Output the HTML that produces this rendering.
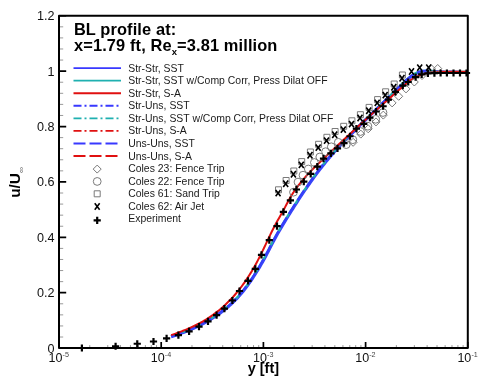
<!DOCTYPE html><html><head><meta charset="utf-8"><style>html,body{margin:0;padding:0;background:#fff;width:488px;height:379px;overflow:hidden}svg{display:block;will-change:transform}</style></head><body>
<svg width="488" height="379" viewBox="0 0 488 379">
<rect width="488" height="379" fill="#fff"/>
<path d="M59.00,337.02H63.20M59.00,325.94H63.20M59.00,314.87H63.20M59.00,303.79H63.20M59.00,281.63H63.20M59.00,270.55H63.20M59.00,259.47H63.20M59.00,248.40H63.20M59.00,226.24H63.20M59.00,215.16H63.20M59.00,204.08H63.20M59.00,193.00H63.20M59.00,170.85H63.20M59.00,159.77H63.20M59.00,148.69H63.20M59.00,137.61H63.20M59.00,115.46H63.20M59.00,104.38H63.20M59.00,93.30H63.20M59.00,82.22H63.20M59.00,60.06H63.20M59.00,48.98H63.20M59.00,37.91H63.20M59.00,26.83H63.20M89.77,348.10V345.10M107.76,348.10V345.10M120.53,348.10V345.10M130.43,348.10V345.10M138.53,348.10V345.10M145.37,348.10V345.10M151.30,348.10V345.10M156.52,348.10V345.10M191.97,348.10V345.10M209.96,348.10V345.10M222.73,348.10V345.10M232.63,348.10V345.10M240.73,348.10V345.10M247.57,348.10V345.10M253.50,348.10V345.10M258.72,348.10V345.10M294.17,348.10V345.10M312.16,348.10V345.10M324.93,348.10V345.10M334.83,348.10V345.10M342.93,348.10V345.10M349.77,348.10V345.10M355.70,348.10V345.10M360.92,348.10V345.10M396.37,348.10V345.10M414.36,348.10V345.10M427.13,348.10V345.10M437.03,348.10V345.10M445.13,348.10V345.10M451.97,348.10V345.10M457.90,348.10V345.10M463.12,348.10V345.10" stroke="#9a9a9a" stroke-width="1" fill="none"/>
<path d="M59.00,348.10H66.20M59.00,292.71H66.20M59.00,237.32H66.20M59.00,181.92H66.20M59.00,126.53H66.20M59.00,71.14H66.20M59.00,15.75H66.20M59.00,348.10V342.10M161.20,348.10V342.10M263.40,348.10V342.10M365.60,348.10V342.10M467.80,348.10V342.10" stroke="#000" stroke-width="1.7" fill="none"/>
<g fill="none" stroke-width="2" stroke-linejoin="round">
<path d="M171.38,337.48 L172.88,336.99 L174.39,336.49 L175.89,335.98 L177.40,335.46 L178.90,334.93 L180.41,334.40 L181.91,333.85 L183.42,333.29 L184.92,332.71 L186.43,332.13 L187.94,331.53 L189.44,330.91 L190.95,330.28 L192.46,329.63 L193.97,328.97 L195.47,328.29 L196.98,327.59 L198.49,326.87 L200.00,326.13 L201.51,325.37 L203.02,324.59 L204.53,323.79 L206.04,322.96 L207.55,322.11 L209.06,321.24 L210.57,320.34 L212.07,319.41 L213.58,318.46 L215.09,317.49 L216.60,316.48 L218.11,315.45 L219.62,314.38 L221.13,313.29 L222.64,312.17 L224.15,311.01 L225.66,309.83 L227.17,308.60 L228.68,307.34 L230.19,306.03 L231.71,304.68 L233.22,303.27 L234.73,301.81 L236.24,300.30 L237.76,298.72 L239.27,297.07 L240.78,295.36 L242.29,293.57 L243.80,291.72 L245.31,289.80 L246.82,287.81 L248.33,285.76 L249.84,283.64 L251.34,281.47 L252.85,279.23 L254.35,276.95 L255.86,274.60 L257.36,272.20 L258.87,269.75 L260.37,267.25 L261.88,264.68 L263.38,262.04 L264.89,259.34 L266.39,256.57 L267.90,253.72 L269.40,250.82 L270.90,247.89 L272.40,244.98 L273.90,242.11 L275.39,239.31 L276.89,236.60 L278.38,233.96 L279.88,231.38 L281.37,228.83 L282.87,226.32 L284.37,223.83 L285.87,221.36 L287.37,218.90 L288.87,216.46 L290.36,214.04 L291.86,211.64 L293.36,209.25 L294.86,206.89 L296.36,204.55 L297.86,202.23 L299.35,199.93 L300.85,197.65 L302.35,195.39 L303.85,193.16 L305.34,190.94 L306.84,188.76 L308.34,186.59 L309.84,184.45 L311.33,182.33 L312.83,180.24 L314.33,178.17 L315.82,176.13 L317.32,174.12 L318.82,172.13 L320.31,170.17 L321.81,168.24 L323.31,166.33 L324.80,164.45 L326.30,162.60 L327.79,160.78 L329.29,158.99 L330.78,157.23 L332.28,155.49 L333.78,153.77 L335.27,152.08 L336.77,150.42 L338.26,148.77 L339.76,147.14 L341.26,145.53 L342.75,143.94 L344.25,142.37 L345.75,140.80 L347.25,139.26 L348.74,137.72 L350.24,136.20 L351.74,134.68 L353.24,133.18 L354.74,131.68 L356.23,130.19 L357.73,128.70 L359.23,127.22 L360.73,125.75 L362.23,124.28 L363.73,122.81 L365.23,121.34 L366.73,119.88 L368.23,118.42 L369.73,116.97 L371.23,115.51 L372.73,114.06 L374.23,112.61 L375.73,111.16 L377.23,109.71 L378.73,108.26 L380.23,106.81 L381.73,105.35 L383.23,103.90 L384.73,102.44 L386.23,100.99 L387.73,99.53 L389.23,98.07 L390.73,96.61 L392.23,95.15 L393.73,93.70 L395.23,92.24 L396.73,90.78 L398.23,89.32 L399.73,87.86 L401.23,86.40 L402.72,84.95 L404.22,83.52 L405.71,82.13 L407.20,80.78 L408.68,79.49 L410.16,78.27 L411.63,77.14 L413.10,76.11 L414.56,75.18 L416.01,74.38 L417.45,73.71 L418.89,73.17 L420.32,72.74 L421.77,72.42 L423.21,72.20 L424.66,72.06 L426.12,71.99 L427.59,71.99 L429.06,72.04 L430.54,72.13 L432.02,72.24 L433.51,72.38 L435.01,72.53 L436.52,72.67 L438.03,72.80 L439.55,72.89 L467.80,71.80" stroke="#3838ff" stroke-width="1.5"/>
<path d="M170.98,336.25 L172.47,335.75 L173.97,335.26 L175.47,334.75 L176.97,334.23 L178.47,333.71 L179.96,333.17 L181.46,332.63 L182.96,332.07 L184.46,331.50 L185.95,330.92 L187.45,330.32 L188.95,329.71 L190.44,329.08 L191.94,328.44 L193.44,327.78 L194.93,327.11 L196.43,326.41 L197.93,325.70 L199.42,324.97 L200.92,324.21 L202.41,323.44 L203.91,322.64 L205.41,321.82 L206.90,320.98 L208.40,320.12 L209.89,319.23 L211.39,318.31 L212.88,317.37 L214.38,316.40 L215.88,315.40 L217.37,314.38 L218.87,313.33 L220.36,312.24 L221.86,311.13 L223.35,309.99 L224.85,308.81 L226.35,307.60 L227.84,306.35 L229.34,305.06 L230.83,303.72 L232.33,302.33 L233.82,300.89 L235.31,299.39 L236.81,297.83 L238.30,296.20 L239.80,294.51 L241.29,292.74 L242.79,290.91 L244.28,289.00 L245.78,287.03 L247.28,284.99 L248.77,282.89 L250.27,280.73 L251.77,278.51 L253.26,276.24 L254.76,273.90 L256.26,271.52 L257.76,269.08 L259.26,266.58 L260.75,264.03 L262.25,261.41 L263.75,258.72 L265.25,255.96 L266.75,253.12 L268.24,250.23 L269.74,247.30 L271.24,244.38 L272.75,241.50 L274.25,238.69 L275.75,235.97 L277.25,233.32 L278.75,230.72 L280.26,228.17 L281.76,225.66 L283.26,223.16 L284.76,220.68 L286.26,218.22 L287.76,215.78 L289.26,213.35 L290.76,210.95 L292.26,208.56 L293.76,206.19 L295.26,203.85 L296.76,201.52 L298.27,199.21 L299.77,196.93 L301.27,194.67 L302.77,192.43 L304.27,190.21 L305.77,188.02 L307.27,185.85 L308.77,183.70 L310.27,181.58 L311.78,179.48 L313.28,177.41 L314.78,175.36 L316.28,173.34 L317.78,171.35 L319.28,169.38 L320.78,167.44 L322.29,165.52 L323.79,163.64 L325.29,161.78 L326.79,159.95 L328.29,158.15 L329.80,156.38 L331.30,154.64 L332.80,152.92 L334.30,151.22 L335.80,149.55 L337.30,147.89 L338.81,146.26 L340.31,144.64 L341.81,143.05 L343.31,141.47 L344.81,139.90 L346.31,138.35 L347.81,136.81 L349.32,135.29 L350.82,133.77 L352.32,132.26 L353.82,130.76 L355.32,129.27 L356.82,127.78 L358.32,126.30 L359.82,124.82 L361.32,123.35 L362.82,121.88 L364.32,120.41 L365.82,118.95 L367.32,117.49 L368.82,116.04 L370.32,114.58 L371.82,113.13 L373.32,111.68 L374.82,110.22 L376.32,108.77 L377.82,107.32 L379.32,105.87 L380.82,104.42 L382.32,102.96 L383.82,101.51 L385.32,100.05 L386.82,98.60 L388.32,97.14 L389.82,95.68 L391.32,94.22 L392.82,92.76 L394.32,91.30 L395.82,89.85 L397.32,88.39 L398.82,86.93 L400.32,85.47 L401.82,84.01 L403.32,82.58 L404.83,81.17 L406.33,79.81 L407.84,78.50 L409.35,77.26 L410.86,76.09 L412.38,75.03 L413.90,74.06 L415.42,73.22 L416.95,72.51 L418.47,71.93 L420.00,71.48 L421.53,71.15 L423.05,70.91 L424.57,70.76 L426.09,70.69 L427.61,70.69 L429.12,70.74 L430.63,70.83 L432.13,70.95 L433.64,71.09 L435.14,71.23 L436.64,71.38 L438.13,71.50 L439.62,71.60 L467.80,71.80" stroke="#1fb0b0" stroke-width="2.2"/>
<path d="M170.98,336.25 L172.47,335.75 L173.97,335.26 L175.47,334.75 L176.97,334.23 L178.47,333.71 L179.96,333.17 L181.46,332.63 L182.96,332.07 L184.46,331.50 L185.95,330.92 L187.45,330.32 L188.95,329.71 L190.44,329.08 L191.94,328.44 L193.44,327.78 L194.93,327.11 L196.43,326.41 L197.93,325.70 L199.42,324.97 L200.92,324.21 L202.41,323.44 L203.91,322.64 L205.41,321.82 L206.90,320.98 L208.40,320.12 L209.89,319.23 L211.39,318.31 L212.88,317.37 L214.38,316.40 L215.88,315.40 L217.37,314.38 L218.87,313.33 L220.36,312.24 L221.86,311.13 L223.35,309.99 L224.85,308.81 L226.35,307.60 L227.84,306.35 L229.34,305.06 L230.83,303.72 L232.33,302.33 L233.82,300.89 L235.31,299.39 L236.81,297.83 L238.30,296.20 L239.80,294.51 L241.29,292.74 L242.79,290.91 L244.28,289.00 L245.78,287.03 L247.28,284.99 L248.77,282.89 L250.27,280.73 L251.77,278.51 L253.26,276.24 L254.76,273.90 L256.26,271.52 L257.76,269.08 L259.26,266.58 L260.75,264.03 L262.25,261.41 L263.75,258.72 L265.25,255.96 L266.75,253.12 L268.24,250.23 L269.74,247.30 L271.24,244.38 L272.75,241.50 L274.25,238.69 L275.75,235.97 L277.25,233.32 L278.75,230.72 L280.26,228.17 L281.76,225.66 L283.26,223.16 L284.76,220.68 L286.26,218.22 L287.76,215.78 L289.26,213.35 L290.76,210.95 L292.26,208.56 L293.76,206.19 L295.26,203.85 L296.76,201.52 L298.27,199.21 L299.77,196.93 L301.27,194.67 L302.77,192.43 L304.27,190.21 L305.77,188.02 L307.27,185.85 L308.77,183.70 L310.27,181.58 L311.78,179.48 L313.28,177.41 L314.78,175.36 L316.28,173.34 L317.78,171.35 L319.28,169.38 L320.78,167.44 L322.29,165.52 L323.79,163.64 L325.29,161.78 L326.79,159.95 L328.29,158.15 L329.80,156.38 L331.30,154.64 L332.80,152.92 L334.30,151.22 L335.80,149.55 L337.30,147.89 L338.81,146.26 L340.31,144.64 L341.81,143.05 L343.31,141.47 L344.81,139.90 L346.31,138.35 L347.81,136.81 L349.32,135.29 L350.82,133.77 L352.32,132.26 L353.82,130.76 L355.32,129.27 L356.82,127.78 L358.32,126.30 L359.82,124.82 L361.32,123.35 L362.82,121.88 L364.32,120.41 L365.82,118.95 L367.32,117.49 L368.82,116.04 L370.32,114.58 L371.82,113.13 L373.32,111.68 L374.82,110.22 L376.32,108.77 L377.82,107.32 L379.32,105.87 L380.82,104.42 L382.32,102.96 L383.82,101.51 L385.32,100.05 L386.82,98.60 L388.32,97.14 L389.82,95.68 L391.32,94.22 L392.82,92.76 L394.32,91.30 L395.82,89.85 L397.32,88.39 L398.82,86.93 L400.32,85.47 L401.82,84.01 L403.32,82.58 L404.83,81.17 L406.33,79.81 L407.84,78.50 L409.35,77.26 L410.86,76.09 L412.38,75.03 L413.90,74.06 L415.42,73.22 L416.95,72.51 L418.47,71.93 L420.00,71.48 L421.53,71.15 L423.05,70.91 L424.57,70.76 L426.09,70.69 L427.61,70.69 L429.12,70.74 L430.63,70.83 L432.13,70.95 L433.64,71.09 L435.14,71.23 L436.64,71.38 L438.13,71.50 L439.62,71.60 L467.80,71.80" stroke="#3838ff" stroke-width="2.2" stroke-dasharray="12 4"/>
<path d="M171.10,335.14 L172.60,334.63 L174.10,334.11 L175.60,333.58 L177.10,333.04 L178.60,332.49 L180.10,331.93 L181.60,331.36 L183.10,330.77 L184.60,330.17 L186.10,329.56 L187.60,328.93 L189.10,328.29 L190.60,327.62 L192.10,326.94 L193.60,326.23 L195.10,325.51 L196.60,324.76 L198.10,323.99 L199.60,323.20 L201.10,322.38 L202.60,321.53 L204.10,320.65 L205.60,319.75 L207.10,318.82 L208.60,317.86 L210.10,316.86 L211.60,315.83 L213.10,314.77 L214.60,313.68 L216.10,312.55 L217.60,311.38 L219.10,310.17 L220.60,308.93 L222.10,307.64 L223.60,306.31 L225.10,304.95 L226.60,303.53 L228.10,302.07 L229.60,300.56 L231.10,299.00 L232.60,297.39 L234.10,295.72 L235.60,294.00 L237.10,292.21 L238.60,290.37 L240.10,288.46 L241.60,286.48 L243.10,284.44 L244.60,282.33 L246.10,280.15 L247.60,277.89 L249.10,275.56 L250.60,273.15 L252.10,270.66 L253.60,268.08 L255.10,265.43 L256.60,262.69 L258.10,259.85 L259.60,256.93 L261.10,253.92 L262.60,250.84 L264.10,247.72 L265.60,244.56 L267.10,241.39 L268.60,238.24 L270.10,235.11 L271.60,232.03 L273.10,229.03 L274.60,226.11 L276.10,223.31 L277.60,220.59 L279.10,217.94 L280.60,215.30 L282.10,212.65 L283.60,209.93 L285.10,207.13 L286.60,204.28 L288.10,201.44 L289.60,198.69 L291.10,196.09 L292.60,193.68 L294.10,191.44 L295.60,189.29 L297.10,187.22 L298.60,185.22 L300.10,183.29 L301.60,181.43 L303.10,179.62 L304.60,177.88 L306.10,176.18 L307.60,174.53 L309.10,172.92 L310.60,171.34 L312.10,169.80 L313.60,168.29 L315.10,166.81 L316.60,165.34 L318.10,163.89 L319.60,162.45 L321.10,161.02 L322.60,159.59 L324.10,158.16 L325.60,156.74 L327.10,155.32 L328.60,153.90 L330.10,152.48 L331.60,151.07 L333.10,149.65 L334.60,148.24 L336.10,146.84 L337.60,145.43 L339.10,144.03 L340.60,142.63 L342.10,141.23 L343.60,139.84 L345.10,138.45 L346.60,137.06 L348.10,135.67 L349.60,134.28 L351.10,132.90 L352.60,131.52 L354.10,130.14 L355.60,128.77 L357.10,127.39 L358.60,126.02 L360.10,124.65 L361.60,123.28 L363.10,121.92 L364.60,120.56 L366.10,119.20 L367.60,117.84 L369.10,116.48 L370.60,115.13 L372.10,113.78 L373.60,112.43 L375.10,111.08 L376.60,109.74 L378.10,108.40 L379.60,107.06 L381.10,105.72 L382.60,104.38 L384.10,103.05 L385.60,101.71 L387.10,100.38 L388.60,99.05 L390.10,97.73 L391.60,96.40 L393.10,95.08 L394.60,93.75 L396.10,92.43 L397.60,91.10 L399.10,89.78 L400.60,88.46 L402.10,87.14 L403.60,85.81 L405.10,84.49 L406.60,83.20 L408.10,81.96 L409.60,80.81 L411.10,79.76 L412.60,78.80 L414.10,77.94 L415.60,77.15 L417.10,76.43 L418.60,75.79 L420.10,75.21 L421.60,74.68 L423.10,74.21 L424.60,73.79 L426.10,73.42 L427.60,73.09 L429.10,72.80 L430.60,72.56 L432.10,72.35 L433.60,72.18 L435.10,72.04 L436.60,71.93 L438.10,71.84 L439.60,71.78 L467.80,71.80" stroke="#e01010"/>
</g>
<g fill="none" stroke="#737373" stroke-width="0.95">
<path d="M392.10,98.90L396.10,102.90L392.10,106.90L388.10,102.90ZM398.70,92.30L402.70,96.30L398.70,100.30L394.70,96.30ZM406.00,84.90L410.00,88.90L406.00,92.90L402.00,88.90ZM414.30,78.00L418.30,82.00L414.30,86.00L410.30,82.00ZM422.00,71.50L426.00,75.50L422.00,79.50L418.00,75.50ZM431.10,64.50L435.10,68.50L431.10,72.50L427.10,68.50ZM437.70,64.50L441.70,68.50L437.70,72.50L433.70,68.50ZM353.10,138.30L357.10,142.30L353.10,146.30L349.10,142.30ZM360.80,130.10L364.80,134.10L360.80,138.10L356.80,134.10ZM368.20,124.80L372.20,128.80L368.20,132.80L364.20,128.80ZM376.00,117.90L380.00,121.90L376.00,125.90L372.00,121.90ZM383.30,111.10L387.30,115.10L383.30,119.10L379.30,115.10Z"/>
<circle cx="293.50" cy="192.20" r="3.9"/>
<circle cx="298.00" cy="182.10" r="3.9"/>
<circle cx="303.00" cy="175.20" r="3.9"/>
<circle cx="308.30" cy="169.00" r="3.9"/>
<circle cx="314.40" cy="162.50" r="3.9"/>
<circle cx="319.80" cy="157.00" r="3.9"/>
<circle cx="325.60" cy="151.70" r="3.9"/>
<circle cx="331.30" cy="146.80" r="3.9"/>
<circle cx="338.30" cy="142.30" r="3.9"/>
<circle cx="346.20" cy="144.60" r="3.9"/>
<circle cx="352.80" cy="139.70" r="3.9"/>
<circle cx="360.50" cy="131.50" r="3.9"/>
<circle cx="367.90" cy="126.20" r="3.9"/>
<circle cx="375.70" cy="119.30" r="3.9"/>
<circle cx="383.00" cy="112.50" r="3.9"/>
<path d="M275.50,186.80h6.00v6.00h-6.00ZM283.10,177.50h6.00v6.00h-6.00ZM290.80,168.00h6.00v6.00h-6.00ZM298.70,158.60h6.00v6.00h-6.00ZM307.40,149.00h6.00v6.00h-6.00ZM315.60,141.30h6.00v6.00h-6.00ZM323.90,134.30h6.00v6.00h-6.00ZM332.10,128.50h6.00v6.00h-6.00ZM340.70,123.30h6.00v6.00h-6.00ZM348.90,117.80h6.00v6.00h-6.00ZM357.40,111.70h6.00v6.00h-6.00ZM366.10,104.40h6.00v6.00h-6.00ZM374.60,96.60h6.00v6.00h-6.00ZM382.60,88.80h6.00v6.00h-6.00ZM391.20,81.00h6.00v6.00h-6.00ZM399.40,72.00h6.00v6.00h-6.00Z"/>
</g>
<path d="M275.65,189.90L280.55,196.30M280.55,189.90L275.65,196.30M283.25,180.60L288.15,187.00M288.15,180.60L283.25,187.00M290.95,171.10L295.85,177.50M295.85,171.10L290.95,177.50M298.85,161.70L303.75,168.10M303.75,161.70L298.85,168.10M307.55,152.10L312.45,158.50M312.45,152.10L307.55,158.50M315.75,144.40L320.65,150.80M320.65,144.40L315.75,150.80M324.05,137.40L328.95,143.80M328.95,137.40L324.05,143.80M332.25,131.60L337.15,138.00M337.15,131.60L332.25,138.00M340.85,126.40L345.75,132.80M345.75,126.40L340.85,132.80M349.05,120.90L353.95,127.30M353.95,120.90L349.05,127.30M357.55,114.80L362.45,121.20M362.45,114.80L357.55,121.20M366.25,107.50L371.15,113.90M371.15,107.50L366.25,113.90M374.75,99.70L379.65,106.10M379.65,99.70L374.75,106.10M382.75,91.90L387.65,98.30M387.65,91.90L382.75,98.30M391.35,84.10L396.25,90.50M396.25,84.10L391.35,90.50M399.55,75.10L404.45,81.50M404.45,75.10L399.55,81.50M409.05,68.30L413.95,74.70M413.95,68.30L409.05,74.70M417.25,64.40L422.15,70.80M422.15,64.40L417.25,70.80M426.25,64.40L431.15,70.80M431.15,64.40L426.25,70.80" stroke="#000" stroke-width="1.6" fill="none"/>
<path d="M78.30,348.00h7.20M81.90,344.40v7.20M112.00,346.25h7.20M115.60,342.65v7.20M133.65,343.75h7.20M137.25,340.15v7.20M149.90,341.50h7.20M153.50,337.90v7.20M163.00,338.40h7.20M166.60,334.80v7.20M174.80,335.10h7.20M178.40,331.50v7.20M185.50,331.40h7.20M189.10,327.80v7.20M195.40,326.60h7.20M199.00,323.00v7.20M204.40,321.30h7.20M208.00,317.70v7.20M213.00,315.20h7.20M216.60,311.60v7.20M220.80,308.60h7.20M224.40,305.00v7.20M228.80,300.50h7.20M232.40,296.90v7.20M235.90,291.00h7.20M239.50,287.40v7.20M244.40,280.80h7.20M248.00,277.20v7.20M251.70,268.90h7.20M255.30,265.30v7.20M257.90,254.80h7.20M261.50,251.20v7.20M265.70,240.20h7.20M269.30,236.60v7.20M273.40,226.20h7.20M277.00,222.60v7.20M279.80,211.80h7.20M283.40,208.20v7.20M286.80,200.30h7.20M290.40,196.70v7.20M292.80,189.50h7.20M296.40,185.90v7.20M300.20,181.70h7.20M303.80,178.10v7.20M307.10,173.90h7.20M310.70,170.30v7.20M313.70,166.60h7.20M317.30,163.00v7.20M319.90,158.70h7.20M323.50,155.10v7.20M327.30,153.40h7.20M330.90,149.80v7.20M333.90,148.40h7.20M337.50,144.80v7.20M340.40,143.10h7.20M344.00,139.50v7.20M346.40,136.25h7.20M350.00,132.65v7.20M352.80,128.70h7.20M356.40,125.10v7.20M360.20,123.80h7.20M363.80,120.20v7.20M366.30,117.60h7.20M369.90,114.00v7.20M372.40,111.50h7.20M376.00,107.90v7.20M379.50,106.25h7.20M383.10,102.65v7.20M384.80,99.60h7.20M388.40,96.00v7.20M391.80,91.80h7.20M395.40,88.20v7.20M399.20,85.70h7.20M402.80,82.10v7.20M404.60,82.00h7.20M408.20,78.40v7.20M412.00,77.10h7.20M415.60,73.50v7.20M418.10,74.30h7.20M421.70,70.70v7.20M424.30,73.40h7.20M427.90,69.80v7.20M430.80,73.20h7.20M434.40,69.60v7.20M437.00,73.00h7.20M440.60,69.40v7.20M443.30,73.00h7.20M446.90,69.40v7.20M449.90,73.00h7.20M453.50,69.40v7.20M456.40,73.00h7.20M460.00,69.40v7.20M462.90,73.00h7.20M466.50,69.40v7.20" stroke="#000" stroke-width="2.2" fill="none"/>
<path d="M59.00,15.75V348.10H467.80V15.75Z" stroke="#000" stroke-width="2" fill="none" stroke-linejoin="round"/>
<g font-family="Liberation Sans, sans-serif" font-size="12.6" fill="#111" text-anchor="end">
<text x="54.4" y="352.60">0</text>
<text x="54.4" y="297.21">0.2</text>
<text x="54.4" y="241.82">0.4</text>
<text x="54.4" y="186.42">0.6</text>
<text x="54.4" y="131.03">0.8</text>
<text x="54.4" y="75.64">1</text>
<text x="54.4" y="20.25">1.2</text>
</g>
<g font-family="Liberation Sans, sans-serif" fill="#111">
<text x="48.60" y="362.4" font-size="12.5">10</text>
<text x="62.60" y="356.6" font-size="7.2" fill="#444">-5</text>
<text x="150.80" y="362.4" font-size="12.5">10</text>
<text x="164.80" y="356.6" font-size="7.2" fill="#444">-4</text>
<text x="253.00" y="362.4" font-size="12.5">10</text>
<text x="267.00" y="356.6" font-size="7.2" fill="#444">-3</text>
<text x="355.20" y="362.4" font-size="12.5">10</text>
<text x="369.20" y="356.6" font-size="7.2" fill="#444">-2</text>
<text x="457.40" y="362.4" font-size="12.5">10</text>
<text x="471.40" y="356.6" font-size="7.2" fill="#444">-1</text>
</g>
<text font-family="Liberation Sans, sans-serif" font-size="14.5" font-weight="bold" x="263.4" y="372.8" text-anchor="middle" fill="#000">y [ft]</text>
<g transform="translate(20.2,182.4) rotate(-90)"><text font-family="Liberation Sans, sans-serif" font-size="15.4" font-weight="bold" fill="#000" text-anchor="middle">u/U<tspan font-size="8.5" font-weight="normal" fill="#666" dy="4.2">&#8734;</tspan></text></g>
<g font-family="Liberation Sans, sans-serif" font-weight="bold" font-size="16.4" fill="#000" letter-spacing="0.12">
<text x="73.9" y="34.7">BL profile at:</text>
<text x="74.0" y="51.2">x=1.79 ft, Re<tspan font-size="9.5" font-weight="bold" dy="4.2">x</tspan><tspan dy="-4.4">=3.81 million</tspan></text>
</g>
<g font-family="Liberation Sans, sans-serif" font-size="11" fill="#1a1a1a" transform="translate(128.2,0) scale(0.95,1)">
<text x="0" y="71.60">Str-Str, SST</text>
<text x="0" y="84.16">Str-Str, SST w/Comp Corr, Press Dilat OFF</text>
<text x="0" y="96.72">Str-Str, S-A</text>
<text x="0" y="109.28">Str-Uns, SST</text>
<text x="0" y="121.84">Str-Uns, SST w/Comp Corr, Press Dilat OFF</text>
<text x="0" y="134.40">Str-Uns, S-A</text>
<text x="0" y="146.96">Uns-Uns, SST</text>
<text x="0" y="159.52">Uns-Uns, S-A</text>
<text x="0" y="172.08">Coles 23: Fence Trip</text>
<text x="0" y="184.64">Coles 22: Fence Trip</text>
<text x="0" y="197.20">Coles 61: Sand Trip</text>
<text x="0" y="209.76">Coles 62: Air Jet</text>
<text x="0" y="222.32">Experiment</text>
</g>
<path d="M73.5,68.10H121" stroke="#3838ff" stroke-width="1.85" fill="none"/>
<path d="M73.5,80.66H121" stroke="#1fb0b0" stroke-width="1.85" fill="none"/>
<path d="M73.5,93.22H121" stroke="#e01010" stroke-width="1.85" fill="none"/>
<path d="M73.5,105.78H121" stroke="#3838ff" stroke-width="1.85" fill="none" stroke-dasharray="8 3 2 3"/>
<path d="M73.5,118.34H121" stroke="#1fb0b0" stroke-width="1.85" fill="none" stroke-dasharray="8 3 2 3"/>
<path d="M73.5,130.90H121" stroke="#e01010" stroke-width="1.85" fill="none" stroke-dasharray="8 3 2 3"/>
<path d="M73.5,143.46H121" stroke="#3838ff" stroke-width="1.85" fill="none" stroke-dasharray="12 4"/>
<path d="M73.5,156.02H121" stroke="#e01010" stroke-width="1.85" fill="none" stroke-dasharray="12 4"/>
<g fill="none" stroke="#737373" stroke-width="0.95">
<path d="M97.20,165.08L101.20,169.08L97.20,173.08L93.20,169.08Z"/>
<circle cx="97.20" cy="181.44" r="3.9"/>
<path d="M94.20,190.80h6.00v6.00h-6.00Z"/>
</g>
<path d="M94.75,203.26L99.65,209.66M99.65,203.26L94.75,209.66" stroke="#000" stroke-width="1.6" fill="none"/>
<path d="M93.60,220.42h7.20M97.20,216.82v7.20" stroke="#000" stroke-width="2.2" fill="none"/>
</svg></body></html>
